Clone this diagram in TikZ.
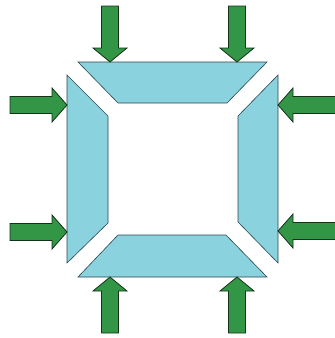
\documentclass[tikz,border=0pt]{standalone}
\definecolor{plate}{RGB}{138,210,222}
\definecolor{plateline}{RGB}{40,70,80}
\definecolor{arrowgreen}{RGB}{50,150,70}
\definecolor{arrowline}{RGB}{20,50,25}
\tikzset{
  platestyle/.style={fill=plate, draw=plateline, line width=0.6pt, line join=miter},
  arrowstyle/.style={fill=arrowgreen, draw=arrowline, line width=0.8pt, line join=miter}
}
\begin{document}
\begin{tikzpicture}[x=1pt,y=-1pt]
\useasboundingbox (0,0) rectangle (335,338);
% plates
\draw[platestyle] (78,62) -- (267,62) -- (227,103) -- (118,103) -- cycle;
\draw[platestyle] (67,75) -- (108,116) -- (108,223) -- (67,263) -- cycle;
\draw[platestyle] (278,75) -- (238,116) -- (238,222) -- (278,263) -- cycle;
\draw[platestyle] (78,277) -- (118,235) -- (226,235) -- (267,277) -- cycle;
% top arrows
\foreach \cx in {110,237}{
  \draw[arrowstyle] (\cx-8.5,6) -- (\cx+8.5,6) -- (\cx+8.5,48) -- (\cx+17,48) -- (\cx,62) -- (\cx-17,48) -- (\cx-8.5,48) -- cycle;
}
% bottom arrows
\foreach \cx in {110,237}{
  \draw[arrowstyle] (\cx-8.5,333) -- (\cx+8.5,333) -- (\cx+8.5,291) -- (\cx+17,291) -- (\cx,277) -- (\cx-17,291) -- (\cx-8.5,291) -- cycle;
}
% left arrows
\foreach \cy in {105,232}{
  \draw[arrowstyle] (10,\cy-8.5) -- (10,\cy+8.5) -- (52,\cy+8.5) -- (52,\cy+17) -- (67,\cy) -- (52,\cy-17) -- (52,\cy-8.5) -- cycle;
}
% right arrows
\foreach \cy in {105,231}{
  \draw[arrowstyle] (336,\cy-8.5) -- (336,\cy+8.5) -- (293,\cy+8.5) -- (293,\cy+17) -- (278,\cy) -- (293,\cy-17) -- (293,\cy-8.5) -- cycle;
}
\end{tikzpicture}
\end{document}
